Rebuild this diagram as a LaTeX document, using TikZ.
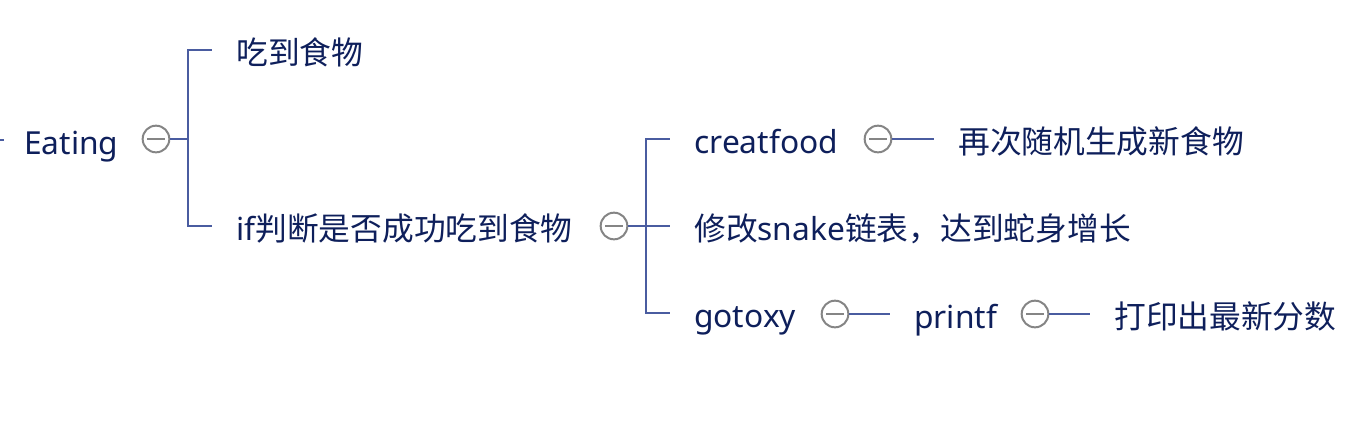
\documentclass[tikz,border=0pt]{standalone}
\usepackage{fontspec}
\setmainfont{Noto Sans CJK SC}
\newfontfamily\lat{Noto Sans}
\usetikzlibrary{positioning}
\definecolor{txtblue}{HTML}{0E1F5B}
\definecolor{branchblue}{HTML}{4A5CA0}
\definecolor{foldgray}{HTML}{858585}
\tikzset{
  topic/.style={anchor=west,inner xsep=18pt,inner ysep=0pt,text height=22pt,text depth=0pt,
    text=txtblue,font=\fontsize{23.8}{28}\selectfont},
  fold/.style={circle,draw=foldgray,line width=1.5pt,minimum size=20pt,inner sep=0pt,
    path picture={\draw[foldgray,line width=1.5pt] ([xshift=-6.5pt]path picture bounding box.center) -- ([xshift=6.5pt]path picture bounding box.center);}},
  branch/.style={draw=branchblue,line width=1.5pt}
}
\begin{document}
\begin{tikzpicture}[x=0.75pt,y=-0.75pt]
\useasboundingbox (0,0) rectangle (1366,436);
% root
\coordinate (in) at (0,140);
\node[topic] (eat) at (0,140) {\lat Eating};
\draw[branch] (in) -- ++(4,0);
\node[fold] (eatf) at (156,139) {};
\coordinate (j1) at (188,139);
% first level
\node[topic] (food) at (212,50) {吃到食物};
\node[topic] (iff) at (212,226) {{\lat if}判断是否成功吃到食物};
\draw[branch] (eatf) -- (j1) |- (food.west);
\draw[branch] (j1) |- (iff.west);
\node[fold] (iffold) at (614,226) {};
\coordinate (j2) at (646,226);
% second level
\node[topic] (creat) at (670,139) {\lat creatfood};
\node[topic] (snake) at (670,226) {修改{\lat snake}链表，达到蛇身增长};
\node[topic] (goto) at (670,313) {\lat gotoxy};
\draw[branch] (iffold) -- (j2) |- (creat.west);
\draw[branch] (j2) -- (snake.west);
\draw[branch] (j2) |- (goto.west);
% third level
\node[fold] (creatf) at (878,139) {};
\node[topic] (newfood) at (934,139) {再次随机生成新食物};
\draw[branch] (creatf) -- (newfood.west);
\node[fold] (gotof) at (835,314) {};
\node[topic] (printf) at (890,314) {\lat printf};
\draw[branch] (gotof) -- (printf.west);
\node[fold] (printff) at (1035,314) {};
\node[topic] (score) at (1090,314) {打印出最新分数};
\draw[branch] (printff) -- (score.west);
\end{tikzpicture}
\end{document}
